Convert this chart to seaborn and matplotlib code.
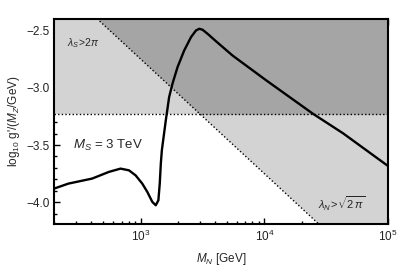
import numpy as np
import pandas as pd
import matplotlib
matplotlib.use("Agg")
import matplotlib.pyplot as plt
import matplotlib.ticker as mticker
import seaborn as sns

# curve: M_N [GeV] vs log10 g'/(M_Z/GeV)
mn = [200, 260, 405, 552, 687, 804, 910, 1030, 1132, 1242, 1324, 1390, 1426,
      1455, 1483, 1596, 1698, 1807, 1986, 2249, 2553, 2799, 2979, 3170, 3475,
      4074, 5521, 10375, 24717, 43351, 100000]
logg = [-3.880, -3.837, -3.793, -3.735, -3.706, -3.721, -3.765, -3.837, -3.910,
        -3.997, -4.026, -3.983, -3.837, -3.662, -3.546, -3.285, -3.082, -2.965,
        -2.820, -2.674, -2.558, -2.500, -2.485, -2.494, -2.529, -2.595,
        -2.718, -2.936, -3.227, -3.398, -3.683]

# exclusion bounds
lamS_level = -3.23          # lambda_S > 2 pi  (horizontal)
lamN_intercept = 0.25       # lambda_N > sqrt(2 pi): log g = c - log10 M_N

xlim = (200, 1e5)
ylim = (-4.19, -2.40)

sns.set_style("ticks")
plt.rcParams['font.family'] = ['Liberation Sans', 'DejaVu Sans']
plt.rcParams['mathtext.fontset'] = 'custom'
plt.rcParams['mathtext.rm'] = 'Liberation Sans'
plt.rcParams['mathtext.it'] = 'Liberation Sans:italic'

fig = plt.figure(figsize=(3.99, 2.68), dpi=100)
ax = fig.add_axes([0.136, 0.164, 0.8364, 0.765])

xs = np.logspace(np.log10(xlim[0]), np.log10(xlim[1]), 400)
diag = lamN_intercept - np.log10(xs)
horiz = np.full_like(xs, lamS_level)
lo = np.minimum(diag, horiz)
hi = np.maximum(diag, horiz)
ax.fill_between(xs, lo, ylim[1], color='#d3d3d3', lw=0)
ax.fill_between(xs, hi, ylim[1], color='#a5a5a5', lw=0)
ax.plot(xs, horiz, color='black', ls=(0, (1, 1.6)), lw=1.0)
ax.plot(xs, diag, color='black', ls=(0, (1, 1.6)), lw=1.0)

df = pd.DataFrame({'MN': mn, 'logg': logg})
sns.lineplot(data=df, x='MN', y='logg', ax=ax, color='black', lw=1.7,
             sort=False, estimator=None)

ax.set_xscale('log')
ax.set_xlim(*xlim)
ax.set_ylim(*ylim)
ax.yaxis.set_major_locator(mticker.MultipleLocator(0.5))
ax.yaxis.set_minor_locator(mticker.MultipleLocator(0.1))
ax.yaxis.set_major_formatter(mticker.FuncFormatter(lambda v, p: f"{v:.1f}".replace('-', '\u2212')))
ax.xaxis.set_major_locator(mticker.LogLocator(base=10, numticks=10))
ax.xaxis.set_minor_locator(mticker.LogLocator(base=10, subs=np.arange(2, 10), numticks=20))
ax.xaxis.set_minor_formatter(mticker.NullFormatter())
ax.tick_params(which='both', direction='in', top=True, right=True, labelsize=8.5,
               width=1.0, color='black', labelcolor='#222222')
ax.tick_params(which='major', length=4)
ax.tick_params(which='minor', length=2.5)
for s in ax.spines.values():
    s.set_linewidth(1.5)
    s.set_color('black')

ax.set_xlabel(r"$M_N$ [GeV]", fontsize=8.5, labelpad=5)
ax.set_ylabel(r"log$_{10}$ g'/($M_Z$/GeV)", fontsize=8.5, labelpad=3)

ax.text(253, -2.61, r"$\lambda_S\!>\!2\pi$", fontsize=7.5, va='center', ha='left')
ax.text(282, -3.50, r"$M_S$ = 3 TeV", fontsize=9.5, va='center', ha='left')
ax.text(27000, -4.01, r"$\lambda_N\!>\!\sqrt{2\,\pi}$", fontsize=8, va='center', ha='left')

fig.savefig('out.png', dpi=100)
